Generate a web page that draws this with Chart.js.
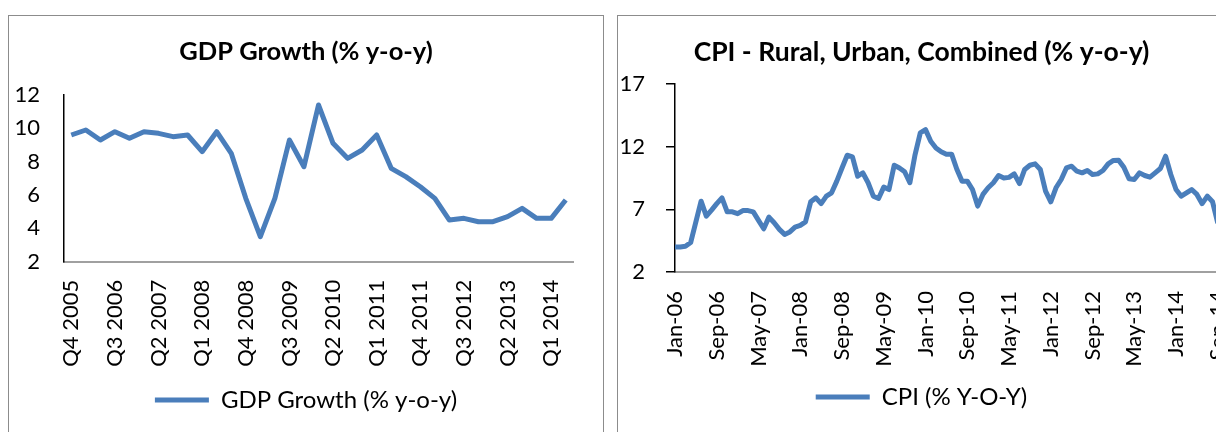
<!DOCTYPE html>
<html>
<head>
<meta charset="utf-8">
<script src="https://cdn.jsdelivr.net/npm/chart.js@4.4.0/dist/chart.umd.min.js"></script>
<style>
	html, body { margin: 0; padding: 0; background: #fff; width: 1216px; height: 432px; overflow: hidden; }
	.box { position: absolute; top: 15px; height: 440px; border: 1px solid #8c8c8c; box-sizing: border-box; }
	#gdpBox { left: 8px; width: 596px; }
	#cpiBox { left: 617px; width: 609px; }
	.box canvas { display: block; }
</style>
</head>
<body>
<div class="box" id="gdpBox"><canvas id="gdpChart" width="594" height="438"></canvas></div>
<div class="box" id="cpiBox"><canvas id="cpiChart" width="607" height="438"></canvas></div>

<script>
// GDP growth, quarterly, Q4 2005 .. Q2 2014
const gdpQuarters = [
	'Q4 2005',
	'Q1 2006', 'Q2 2006', 'Q3 2006', 'Q4 2006',
	'Q1 2007', 'Q2 2007', 'Q3 2007', 'Q4 2007',
	'Q1 2008', 'Q2 2008', 'Q3 2008', 'Q4 2008',
	'Q1 2009', 'Q2 2009', 'Q3 2009', 'Q4 2009',
	'Q1 2010', 'Q2 2010', 'Q3 2010', 'Q4 2010',
	'Q1 2011', 'Q2 2011', 'Q3 2011', 'Q4 2011',
	'Q1 2012', 'Q2 2012', 'Q3 2012', 'Q4 2012',
	'Q1 2013', 'Q2 2013', 'Q3 2013', 'Q4 2013',
	'Q1 2014', 'Q2 2014'
];
const gdpGrowth = [
	9.6,
	9.9, 9.3, 9.8, 9.4,
	9.8, 9.7, 9.5, 9.6,
	8.6, 9.8, 8.5, 5.8,
	3.5, 5.8, 9.3, 7.7,
	11.4, 9.1, 8.2, 8.7,
	9.6, 7.6, 7.1, 6.5,
	5.8, 4.5, 4.6, 4.4,
	4.4, 4.7, 5.2, 4.6,
	4.6, 5.7
];
const gdpTicks = [2, 4, 6, 8, 10, 12];

// CPI, monthly, Jan-06 .. Sep-14 (Oct-14 is only axis room)
const monthNames = ['Jan', 'Feb', 'Mar', 'Apr', 'May', 'Jun', 'Jul', 'Aug', 'Sep', 'Oct', 'Nov', 'Dec'];
const cpiYears = ['06', '07', '08', '09', '10', '11', '12', '13', '14'];
const cpiValues = [
	4.0, 4.0, 4.05, 4.35, 6.0, 7.65, 6.46, 6.94, 7.45, 7.92, 6.8, 6.8,       // 2006
	6.65, 6.9, 6.9, 6.8, 6.12, 5.45, 6.38, 5.93, 5.4, 5.0, 5.2, 5.58,        // 2007
	5.72, 6.0, 7.6, 7.92, 7.45, 8.05, 8.32, 9.25, 10.3, 11.32, 11.19, 9.64,  // 2008
	9.9, 9.12, 8.05, 7.87, 8.77, 8.58, 10.52, 10.3, 10.0, 9.12, 11.37, 13.1, // 2009
	13.36, 12.43, 11.9, 11.6, 11.4, 11.4, 10.2, 9.25, 9.25, 8.58, 7.26, 8.19, // 2010
	8.72, 9.12, 9.7, 9.5, 9.55, 9.83, 9.06, 10.18, 10.52, 10.63, 10.18, 8.45, // 2011
	7.6, 8.72, 9.38, 10.3, 10.44, 10.04, 9.91, 10.1, 9.78, 9.83, 10.1, 10.63, // 2012
	10.9, 10.92, 10.36, 9.44, 9.38, 9.91, 9.7, 9.57, 9.91, 10.26, 11.24, 9.78, // 2013
	8.58, 8.05, 8.32, 8.58, 8.19, 7.45, 8.05, 7.6, 5.9                         // 2014
];
const cpiTicks = [2, 7, 12, 17];

const cpiMonths = [];
cpiYears.forEach((yr) => {
	monthNames.forEach((m) => {
		if (cpiMonths.length < cpiValues.length + 1) cpiMonths.push(m + '-' + yr);
	});
});

const lineColor = '#4a7ebb';
const fontFamily = 'Lato, "Open Sans", sans-serif';

const legendLabels = (chart) =>
	Chart.defaults.plugins.legend.labels.generateLabels(chart).map((l) =>
		Object.assign(l, { lineWidth: 0, fillStyle: lineColor, strokeStyle: lineColor })
	);

const makeChart = (canvasId, opts) => {
	const canvas = document.querySelector(canvasId);
	return new Chart(canvas, {
		type: 'line',
		data: {
			labels: opts.labels,
			datasets: [
				{
					label: opts.legend,
					data: opts.values,
					borderColor: lineColor,
					backgroundColor: lineColor,
					borderWidth: 5,
					borderJoinStyle: 'round',
					pointRadius: 0,
					tension: 0,
				},
			],
		},
		options: {
			responsive: false,
			animation: false,
			layout: { padding: { left: 0, right: 0, top: 0, bottom: opts.padBottom } },
			plugins: {
				title: {
					display: true,
					text: opts.title,
					color: '#000',
					font: { family: fontFamily, size: opts.titleSize, weight: 'bold', lineHeight: 1.2 },
					padding: opts.titlePadding,
				},
				legend: {
					position: 'bottom',
					labels: {
						boxWidth: 54,
						boxHeight: 5,
						padding: 10,
						color: '#000',
						font: { family: fontFamily, size: 24 },
						generateLabels: legendLabels,
					},
				},
				tooltip: { enabled: false },
			},
			scales: {
				x: {
					offset: opts.offset,
					afterFit: (scale) => {
						scale.height = opts.xHeight;
						// room on the right of the plot without moving the title
						scale.paddingLeft = 0;
						scale.paddingRight = opts.plotRight;
					},
					grid: { display: true, drawOnChartArea: false, drawTicks: false, color: 'rgba(0,0,0,0)' },
					border: { display: true, color: '#a0a0a0', width: 2 },
					ticks: {
						autoSkip: false,
						minRotation: 90,
						maxRotation: 90,
						padding: opts.xPad,
						color: '#000',
						font: { family: fontFamily, size: 22 },
						callback: function (v, i) {
							return i % opts.every === 0 ? this.getLabelForValue(v) : '';
						},
					},
				},
				y: {
					min: opts.ticks[0],
					max: opts.ticks[opts.ticks.length - 1],
					afterFit: (scale) => { scale.width = opts.yWidth; },
					afterBuildTicks: (scale) => { scale.ticks = opts.ticks.map((v) => ({ value: v })); },
					grid: {
						display: true,
						drawOnChartArea: false,
						drawTicks: opts.yTickMarks,
						tickLength: 9,
						color: '#000',
						lineWidth: 1.5,
					},
					border: { display: true, color: '#000', width: 1.5 },
					ticks: {
						padding: opts.yPad,
						color: '#000',
						font: { family: fontFamily, size: 22 },
					},
				},
			},
		},
	});
};

makeChart('#gdpChart', {
	labels: gdpQuarters,
	values: gdpGrowth,
	ticks: gdpTicks,
	title: 'GDP Growth (% y-o-y)',
	titleSize: 25.5,
	legend: 'GDP Growth (% y-o-y)',
	every: 3,
	offset: true,
	padBottom: 32,
	plotRight: 30,
	titlePadding: { top: 20.7, bottom: 27.7 },
	xHeight: 116.3,
	xPad: 18,
	yWidth: 55,
	yTickMarks: false,
	yPad: 24,
});

makeChart('#cpiChart', {
	labels: cpiMonths,
	values: cpiValues,
	ticks: cpiTicks,
	title: 'CPI - Rural, Urban, Combined (% y-o-y)',
	titleSize: 26.5,
	legend: 'CPI (% Y-O-Y)',
	every: 8,
	offset: false,
	padBottom: 35,
	plotRight: 2,
	titlePadding: { top: 20.1, bottom: 16.1 },
	xHeight: 103,
	xPad: 19,
	yWidth: 57,
	yTickMarks: true,
	yPad: 21,
});
</script>
</body>
</html>
